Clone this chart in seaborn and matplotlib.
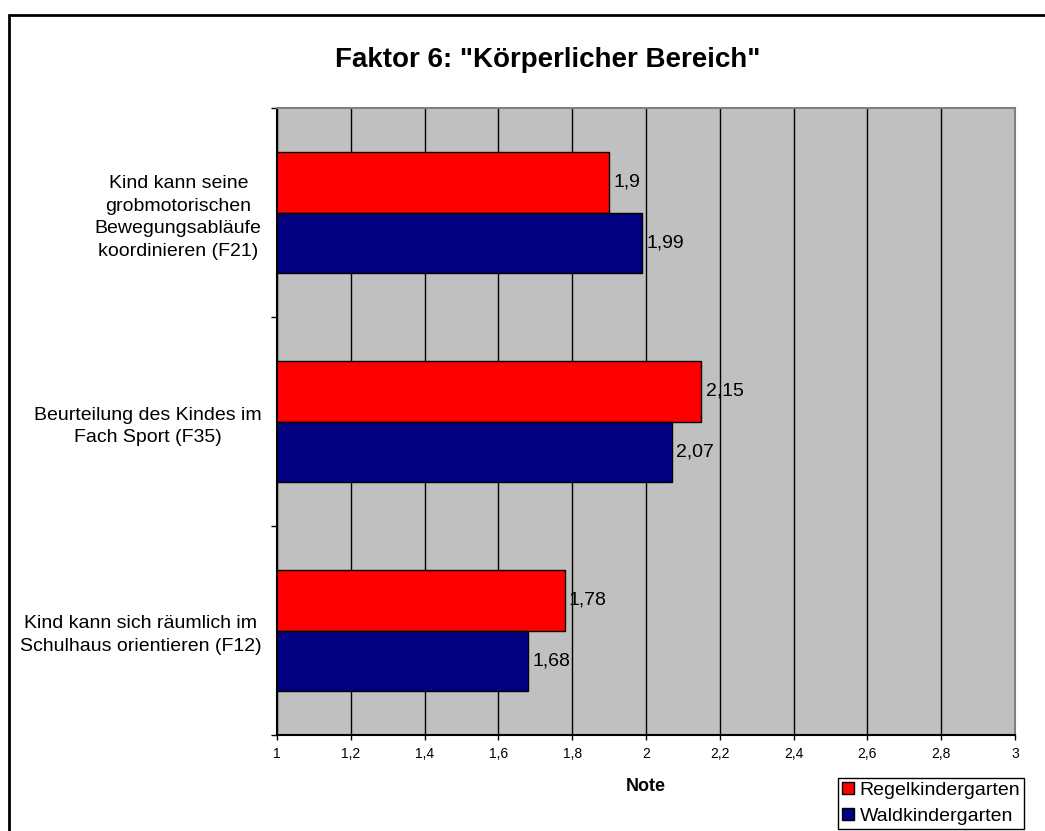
import pandas as pd
import matplotlib
matplotlib.use("Agg")
import matplotlib.pyplot as plt
import matplotlib.patches as mpatches
import seaborn as sns

# data
categories = [
    "Kind kann seine\ngrobmotorischen\nBewegungsabläufe\nkoordinieren (F21)",
    "Beurteilung des Kindes im\nFach Sport (F35)",
    "Kind kann sich räumlich im\nSchulhaus orientieren (F12)",
]
groups = ["Regelkindergarten", "Waldkindergarten"]
regel = [1.9, 2.15, 1.78]
wald = [1.99, 2.07, 1.68]
colors = ["#FF0000", "#000080"]
x_ticks = [1, 1.2, 1.4, 1.6, 1.8, 2, 2.2, 2.4, 2.6, 2.8, 3]
x_tick_labels = ["1", "1,2", "1,4", "1,6", "1,8", "2", "2,2", "2,4", "2,6", "2,8", "3"]

df = pd.DataFrame({
    "Item": categories * 2,
    "Gruppe": [groups[0]] * 3 + [groups[1]] * 3,
    "Note": regel + wald,
})

sns.set_style("white")
plt.rcParams["font.family"] = ["Liberation Sans", "DejaVu Sans"]
plt.rcParams["text.color"] = "black"
plt.rcParams["xtick.color"] = "black"
plt.rcParams["ytick.color"] = "black"
plt.rcParams["axes.labelcolor"] = "black"

fig = plt.figure(figsize=(10.45, 8.31), dpi=100)
ax = fig.add_axes([277 / 1045, 1 - 735 / 831, (1015 - 277) / 1045, (735 - 108) / 831])
ax.set_facecolor("#C0C0C0")

sns.barplot(
    data=df, y="Item", x="Note", hue="Gruppe", palette=colors, saturation=1,
    width=0.575, edgecolor="black", linewidth=1, ax=ax, legend=False,
)

ax.set_xlim(1, 3)
ax.set_ylim(2.5, -0.5)
ax.set_xticks(x_ticks)
ax.set_xticklabels(x_tick_labels, fontsize=10)
ax.grid(axis="x", color="black", linewidth=1)
ax.set_axisbelow(True)

# category labels at centres, tick marks at boundaries
ax.set_yticks(range(len(categories)))
ax.set_yticklabels(categories, fontsize=14, ha="right", multialignment="center",
                   linespacing=1.45)
ax.tick_params(axis="y", which="major", length=0, pad=11)
ax.set_yticks([-0.5, 0.5, 1.5, 2.5], minor=True)
ax.tick_params(axis="y", which="minor", length=4.3, width=1, color="black", direction="out", left=True)
ax.tick_params(axis="x", length=3.6, width=1, color="black", direction="out", bottom=True, pad=5)

for side in ["top", "right"]:
    ax.spines[side].set_color("#808080")
    ax.spines[side].set_linewidth(1.5)
for side in ["left", "bottom"]:
    ax.spines[side].set_color("black")
    ax.spines[side].set_linewidth(1.5)

for cont in ax.containers:
    ax.bar_label(cont, labels=[f"{v.get_width():g}".replace(".", ",") for v in cont],
                 padding=3, fontsize=14)

ax.set_xlabel("Note", fontsize=13, fontweight="bold", labelpad=12)
ax.set_ylabel("")

fig.text(548 / 1045, 1 - 60 / 831, 'Faktor 6: "Körperlicher Bereich"',
         ha="center", va="center", fontsize=20, fontweight="bold")

handles = [mpatches.Patch(facecolor=c, edgecolor="black", linewidth=1) for c in colors]
leg = fig.legend(handles, groups, loc="upper right",
                 bbox_to_anchor=(1024 / 1045, 1 - 778 / 831), fontsize=14,
                 frameon=True, fancybox=False, framealpha=1, borderpad=0.2,
                 labelspacing=0.45, handlelength=0.6, handleheight=0.6,
                 handletextpad=0.3, borderaxespad=0)
leg.get_frame().set_edgecolor("black")
leg.get_frame().set_linewidth(1)

border = mpatches.Rectangle((9 / 1045, -0.1), 1.2, 1.1 - 15 / 831, transform=fig.transFigure,
                            fill=False, edgecolor="black", linewidth=2, clip_on=False)
fig.patches.append(border)

fig.savefig("out.png", dpi=100)
